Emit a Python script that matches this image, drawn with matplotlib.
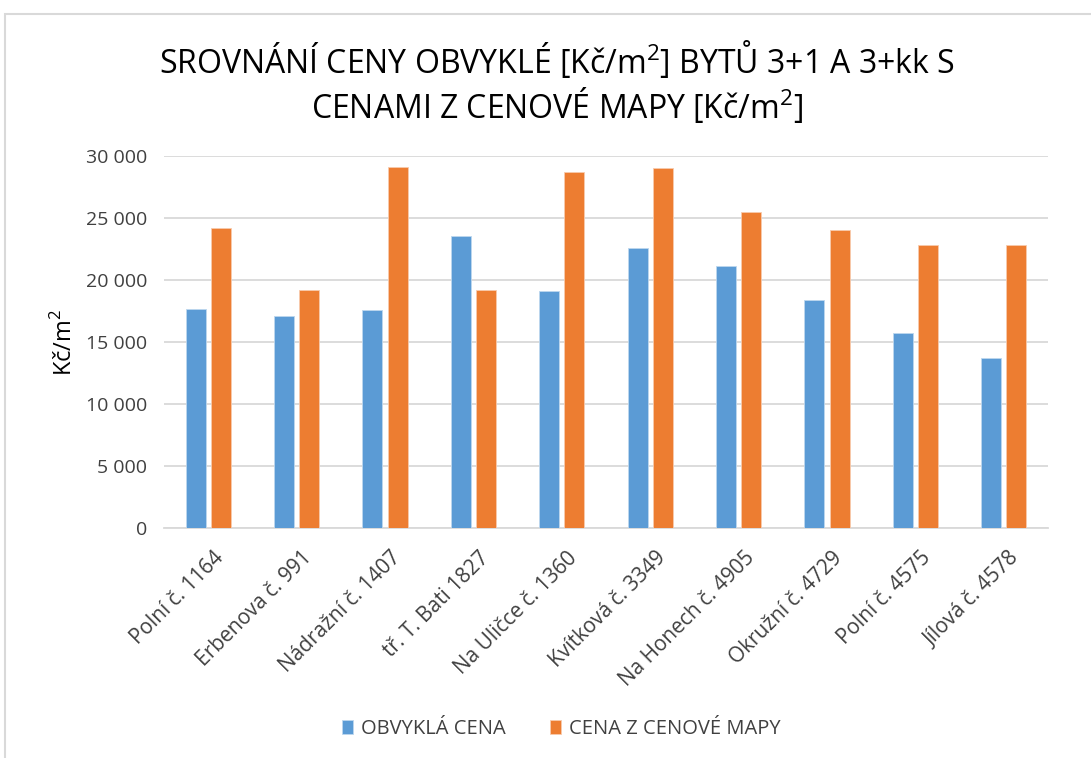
import matplotlib
matplotlib.use("Agg")
import matplotlib.pyplot as plt
from matplotlib.patches import Rectangle
from matplotlib.ticker import FuncFormatter
from matplotlib.transforms import ScaledTranslation
import numpy as np

categories = ["Polní č. 1164", "Erbenova č. 991", "Nádražní č. 1407", "tř. T. Bati 1827",
              "Na Uličce č. 1360", "Kvítková č. 3349", "Na Honech č. 4905", "Okružní č. 4729",
              "Polní č. 4575", "Jílová č. 4578"]
obvykla = [17700, 17100, 17600, 23550, 19100, 22550, 21100, 18400, 15700, 13750]
mapa = [24200, 19200, 29100, 19200, 28700, 29000, 25500, 24050, 22850, 22850]
series_names = ["OBVYKLÁ CENA", "CENA Z CENOVÉ MAPY"]
title = "SROVNÁNÍ CENY OBVYKLÉ [Kč/m$^2$] BYTŮ 3+1 A 3+kk S\nCENAMI Z CENOVÉ MAPY [Kč/m$^2$]"
ylabel = "Kč/m$^2$"

plt.rcParams['font.family'] = ['Open Sans', 'DejaVu Sans']
plt.rcParams['mathtext.fontset'] = 'custom'
plt.rcParams['mathtext.rm'] = 'Open Sans'

fig = plt.figure(figsize=(10.91, 7.58), dpi=100)
W, H = 1091, 758
ax = fig.add_axes([164 / W, 1 - 528 / H, (1048 - 164) / W, (528 - 156) / H])

# chart frame
fig.patches.append(Rectangle((5 / W, -0.1), 1.2, 1.1 - 14 / H, transform=fig.transFigure,
                             fill=False, edgecolor='#D9D9D9', linewidth=1.5))

x = np.arange(len(categories))
bw = 0.226
off = 0.143
ax.bar(x - off, obvykla, bw, color='#5B9BD5', edgecolor='#BDD7EE', linewidth=0.6,
       label=series_names[0], zorder=3)
ax.bar(x + off, mapa, bw, color='#ED7D31', edgecolor='#F8CBAD', linewidth=0.6,
       label=series_names[1], zorder=3)

ax.set_xlim(-0.5, len(categories) - 0.5)
ax.set_ylim(0, 30000)
ax.set_yticks(np.arange(0, 30001, 5000))
ax.yaxis.set_major_formatter(FuncFormatter(lambda v, p: f"{int(v):,}".replace(",", " ")))
ax.grid(axis='y', color='#D9D9D9', linewidth=1.3, zorder=0)
ax.set_axisbelow(True)
for s in ['top', 'right', 'left']:
    ax.spines[s].set_visible(False)
ax.spines['bottom'].set_color('#D9D9D9')
ax.spines['bottom'].set_linewidth(1.3)
ax.tick_params(axis='y', length=0, labelsize=14, colors='#404040', pad=12)
ax.tick_params(axis='x', length=0, pad=14)
ax.set_xticks(x)
ax.set_xticklabels(categories, rotation=45, ha='right', va='top',
                   fontsize=15, color='#404040')
shift = ScaledTranslation(20 / 100, 0, fig.dpi_scale_trans)
for lab in ax.get_xticklabels():
    lab.set_transform(lab.get_transform() + shift)
ax.set_ylabel(ylabel, fontsize=17, color='#000000', labelpad=6)

fig.text(557 / W, 1 - 82.5 / H, title, ha='center', va='center', fontsize=23,
         color='#000000', linespacing=1.14)

ax.legend(loc='center', bbox_to_anchor=(561 / W, 1 - 729 / H), bbox_transform=fig.transFigure,
          ncol=2, frameon=False, fontsize=14.5, handlelength=0.55, handleheight=0.75,
          columnspacing=2.2, handletextpad=0.4, labelcolor='#404040')

fig.savefig("out.png", dpi=100)
